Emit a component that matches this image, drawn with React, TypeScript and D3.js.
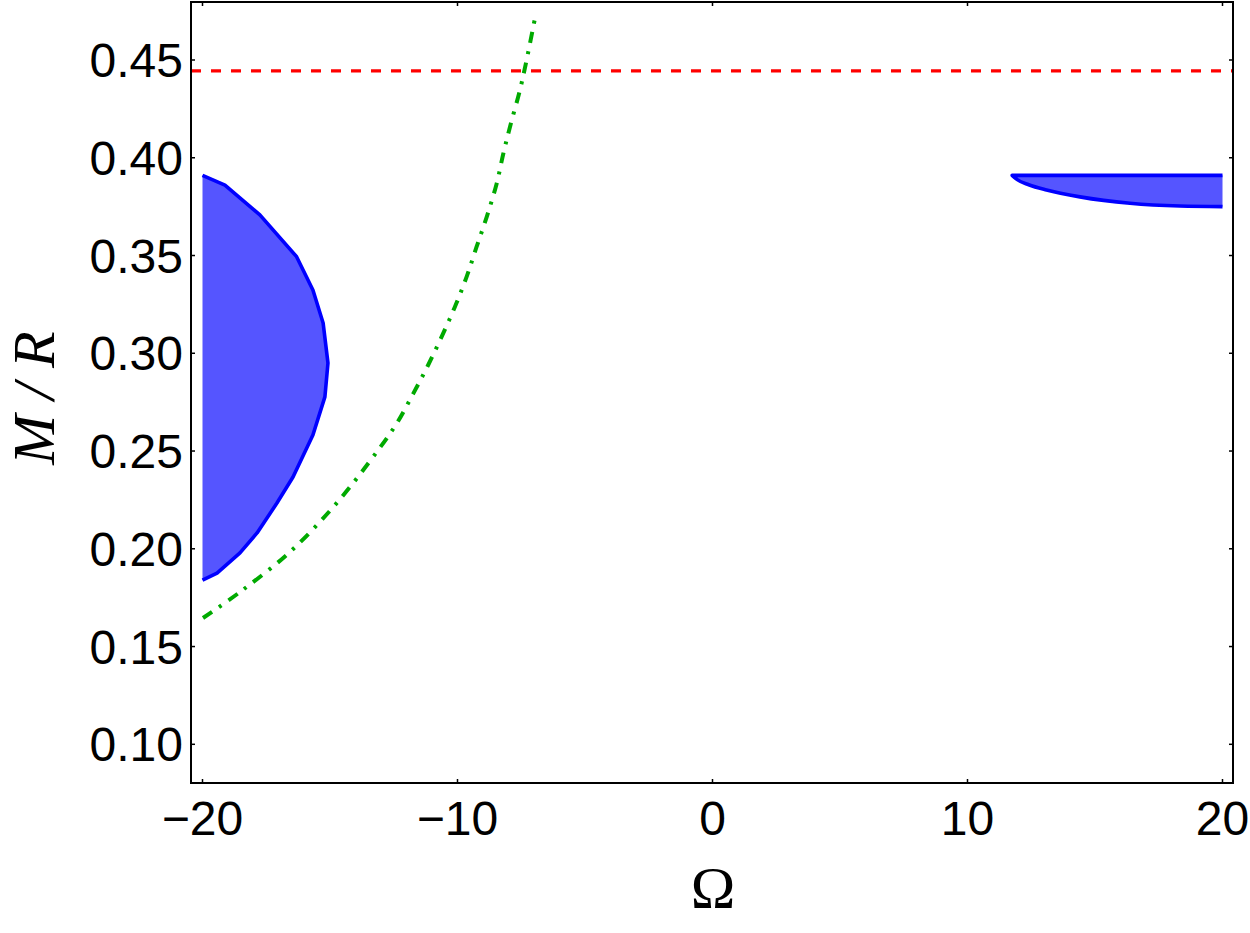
import React from "react";
import * as d3 from "d3";

const xTicks = [-20, -10, 0, 10, 20];
const yTicks = [0.1, 0.15, 0.2, 0.25, 0.3, 0.35, 0.4, 0.45];

// Left stable region boundary (top to bottom), closed along Omega = -20
const leftOmega = [-20.0, -19.12, -17.75, -16.31, -15.67, -15.27, -15.08, -15.2, -15.67, -16.45, -17.08, -17.86, -18.53, -19.43, -20.0];
const leftMR = [0.391, 0.386, 0.3708, 0.3494, 0.3324, 0.3155, 0.295, 0.2777, 0.2582, 0.2367, 0.2234, 0.2081, 0.1979, 0.1876, 0.184];

// Right region: top edge (right end to tip)
const rightTopOmega = [20.0, 11.75];
const rightTopMR = [0.391, 0.391];
// Right region: lower edge (tip to right end)
const rightBotOmega = [11.75, 11.95, 12.4, 13.1, 14.41, 16.37, 18.33, 20.0];
const rightBotMR = [0.391, 0.3888, 0.3862, 0.3835, 0.38, 0.3767, 0.3753, 0.375];

// Green dash-dotted curve
const greenOmega = [-19.98, -18.53, -16.57, -14.73, -13.11, -12.38, -11.73, -11.15, -10.62, -10.1, -9.64, -9.25, -8.85, -8.46, -8.2, -7.94, -7.55, -7.29, -6.96];
const greenMR = [0.1646, 0.1779, 0.1984, 0.2235, 0.2505, 0.2642, 0.2795, 0.294, 0.3085, 0.3238, 0.3392, 0.3545, 0.3699, 0.387, 0.4023, 0.4159, 0.4347, 0.45, 0.4715];

// Buchdahl limit
const buchdahl = [4 / 9];

const fmtY = (v: number) => v.toFixed(2);
const fmtX = (v: number) => (v < 0 ? "\u2212" + Math.abs(v) : String(v));

export default function App() {
  const x = d3.scaleLinear().domain([-20, 20]).range([202.5, 1222.5]);
  const y = d3.scaleLinear().domain([0.1, 0.45]).range([744.3, 60]);
  const L = 191, R = 1233, T = 2, B = 783;

  const leftPts: [number, number][] = leftOmega.map((o, i) => [x(o), y(leftMR[i])]);
  const rTop: [number, number][] = rightTopOmega.map((o, i) => [x(o), y(rightTopMR[i])]);
  const rBot: [number, number][] = rightBotOmega.map((o, i) => [x(o), y(rightBotMR[i])]);
  const greenPts: [number, number][] = greenOmega.map((o, i) => [x(o), y(greenMR[i])]);

  const lin = d3.line().curve(d3.curveLinear);
  const mono = d3.line().curve(d3.curveMonotoneX);
  const smooth = d3.line().curve(d3.curveCatmullRom.alpha(0.5));
  const leftPath = lin(leftPts) as string;
  const botPath = mono(rBot) as string;
  const rightPath = (lin(rTop) as string) + "L" + botPath.slice(1).replace(/^[^C]*/, (m) => m);
  const greenPath = smooth(greenPts) as string;

  const tickFont = "'Liberation Sans', Arial, sans-serif";
  const serif = "'Liberation Serif', 'Times New Roman', serif";

  return (
    <svg width={1250} height={933} style={{ position: "absolute", left: 0, top: 0, background: "#fff" }}>
      <rect x={0} y={0} width={1250} height={933} fill="#fff" />
      <defs>
        <clipPath id="plotclip">
          <rect x={L} y={T} width={R - L} height={B - T} />
        </clipPath>
      </defs>
      <g clipPath="url(#plotclip)">
        <path d={leftPath + "Z"} fill="#5555ff" stroke="none" />
        <path d={leftPath} fill="none" stroke="#0000ff" strokeWidth={3.6} strokeLinejoin="round" />
        <path d={rightPath + "Z"} fill="#5555ff" stroke="none" />
        <path d={rightPath} fill="none" stroke="#0000ff" strokeWidth={3.6} strokeLinejoin="round" />
        {buchdahl.map((b, i) => (
          <line key={i} x1={L} x2={R} y1={y(b)} y2={y(b)} stroke="#ff0000" strokeWidth={3.4} strokeDasharray="10,10" />
        ))}
        <path d={greenPath} fill="none" stroke="#00aa00" strokeWidth={4} strokeDasharray="11,8.5,3,8.5" />
      </g>
      {/* frame */}
      <rect x={L} y={T} width={R - L} height={B - T} fill="none" stroke="#000" strokeWidth={2} />
      {/* ticks */}
      {xTicks.map((t) => (
        <g key={"xt" + t}>
          <line x1={x(t)} x2={x(t)} y1={B} y2={B - 4} stroke="#000" strokeWidth={1.5} />
          <line x1={x(t)} x2={x(t)} y1={T} y2={T + 4} stroke="#000" strokeWidth={1.5} />
          <text x={x(t)} y={835} textAnchor="middle" fontFamily={tickFont} fontSize={48} fill="#000">
            {fmtX(t)}
          </text>
        </g>
      ))}
      {yTicks.map((t) => (
        <g key={"yt" + t}>
          <line x1={L} x2={L + 4} y1={y(t)} y2={y(t)} stroke="#000" strokeWidth={1.5} />
          <line x1={R} x2={R - 4} y1={y(t)} y2={y(t)} stroke="#000" strokeWidth={1.5} />
          <text x={183} y={y(t) + 17} textAnchor="end" fontFamily={tickFont} fontSize={48} fill="#000">
            {fmtY(t)}
          </text>
        </g>
      ))}
      {/* axis labels */}
      <text x={713} y={908} textAnchor="middle" fontFamily={serif} fontSize={60} fill="#000">
        Ω
      </text>
      <text
        transform="translate(54,398) rotate(-90)"
        textAnchor="middle"
        fontFamily={serif}
        fontStyle="italic"
        fontSize={60}
        fill="#000"
        xmlSpace="preserve"
      >
        M / R
      </text>
    </svg>
  );
}
